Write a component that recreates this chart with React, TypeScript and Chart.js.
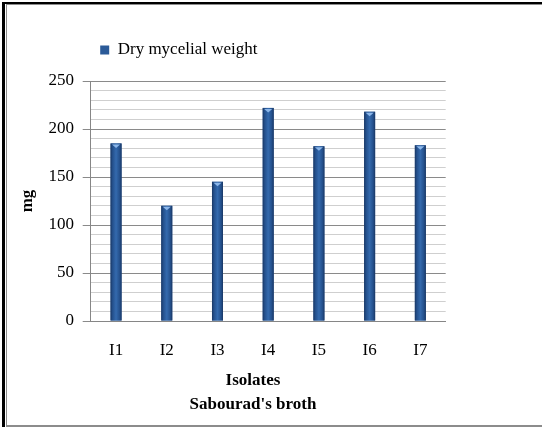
import React, { useEffect, useRef } from "react";
import { Chart, registerables } from "chart.js";

Chart.register(...registerables);

// ---- data ----
const categories = ["I1", "I2", "I3", "I4", "I5", "I6", "I7"];
const dryMycelialWeight = [185, 120, 145, 222, 182, 218, 183];
const seriesLabel = "Dry mycelial weight";
const yAxisTitle = "mg";
const xAxisTitleLines = ["Isolates", "Sabourad's broth"];
const yMin = 0;
const yMax = 250;
const yGridStep = 10;
const yLabelStep = 50;

const FONT = '"Liberation Serif", "Times New Roman", serif';

const cylinderPlugin = {
  id: "cylinderBars",
  afterDatasetsDraw(chart: any) {
    const ctx = chart.ctx;
    chart.data.datasets.forEach((_ds: any, i: number) => {
      const meta = chart.getDatasetMeta(i);
      meta.data.forEach((bar: any) => {
        const { x, y, base, width } = bar.getProps(["x", "y", "base", "width"], true);
        const l = x - width / 2;
        const r = x + width / 2;
        ctx.save();
        const g = ctx.createLinearGradient(l, 0, r, 0);
        g.addColorStop(0, "#1a3763");
        g.addColorStop(0.18, "#24508c");
        g.addColorStop(0.5, "#346aae");
        g.addColorStop(0.82, "#24508c");
        g.addColorStop(1, "#1a3763");
        ctx.fillStyle = g;
        ctx.fillRect(l, y, width, base - y);
        // top cap
        ctx.beginPath();
        ctx.moveTo(l + 1.5, y + 1);
        ctx.lineTo(r - 1.5, y + 1);
        ctx.lineTo(x, y + 4.5);
        ctx.closePath();
        ctx.fillStyle = "#8cb7ea";
        ctx.fill();
        ctx.restore();
      });
    });
  },
};

export default function App() {
  const canvasRef = useRef<HTMLCanvasElement | null>(null);

  useEffect(() => {
    const canvas = canvasRef.current;
    if (!canvas) return;
    const chart = new Chart(canvas, {
      type: "bar",
      data: {
        labels: categories,
        datasets: [
          {
            label: seriesLabel,
            data: dryMycelialWeight,
            backgroundColor: "#2b5a98",
            borderWidth: 0,
            barPercentage: 0.217,
            categoryPercentage: 1,
          },
        ],
      },
      options: {
        responsive: false,
        animation: false,
        layout: { padding: { top: 32, left: 0, right: 0, bottom: 0 } },
        plugins: {
          legend: {
            display: true,
            position: "top",
            align: "start",
            fullSize: false,
            labels: {
              boxWidth: 9,
              boxHeight: 9,
              padding: 9.5,
              color: "#000",
              font: { family: FONT, size: 17 },
            },
          },
          subtitle: {
            display: true,
            text: "",
            position: "top",
            weight: 500,
            fullSize: false,
            padding: 0,
            font: { size: 10, lineHeight: 1.25 },
          },
          title: {
            display: true,
            text: xAxisTitleLines,
            position: "bottom",
            fullSize: true,
            color: "#000",
            font: { family: FONT, size: 17, weight: "bold", lineHeight: 24 / 17 },
            padding: { top: -11.4, bottom: 10 },
          },
          tooltip: { enabled: false },
        },
        scales: {
          x: {
            grid: { display: false, drawTicks: false },
            border: { display: true, color: "#868686", width: 1 },
            ticks: { color: "#000", padding: 19.5, font: { family: FONT, size: 17 } },
          },
          y: {
            min: yMin,
            max: yMax,
            afterFit: (s: any) => {
              s.width = 90.7;
            },
            ticks: {
              stepSize: yGridStep,
              autoSkip: false,
              padding: 8.7,
              color: "#000",
              font: { family: FONT, size: 17 },
              callback: (v: any) => (Number(v) % yLabelStep === 0 ? String(v) : ""),
            },
            grid: {
              drawTicks: true,
              tickLength: 8,
              color: (c: any) => (c.tick && c.tick.value % yLabelStep === 0 ? "#8a8a8a" : "#cfcfcf"),
              tickColor: (c: any) => (c.tick && c.tick.value % yLabelStep === 0 ? "#8a8a8a" : "rgba(0,0,0,0)"),
            },
            border: { display: true, color: "#868686" },
            title: {
              display: true,
              text: yAxisTitle,
              color: "#000",
              font: { family: FONT, size: 17, weight: "bold" },
              padding: { top: 17.6, bottom: 0 },
            },
          },
          yDummy: {
            type: "linear",
            position: "right",
            display: true,
            grid: { display: false, drawTicks: false },
            border: { display: false },
            ticks: { display: false },
            afterFit: (s: any) => {
              s.width = 60.3;
            },
          },
        },
      } as any,
      plugins: [cylinderPlugin],
    });
    return () => chart.destroy();
  }, []);

  const line = (style: React.CSSProperties) => (
    <div style={{ position: "absolute", ...style }} />
  );

  return (
    <div
      style={{
        position: "fixed",
        left: 0,
        top: 0,
        width: 542,
        height: 427,
        background: "#fff",
        overflow: "hidden",
      }}
    >
      {line({ left: 2, top: 2, width: 540, height: 2, background: "#000" })}
      {line({ left: 2, top: 2, width: 3, height: 425, background: "#000" })}
      {line({ left: 6, top: 4, width: 536, height: 1, background: "#8c8c8c" })}
      {line({ left: 6, top: 4, width: 1, height: 422, background: "#8c8c8c" })}
      {line({ left: 6, top: 425, width: 536, height: 2, background: "#8c8c8c" })}
      <canvas
        ref={canvasRef}
        width={506}
        height={427}
        style={{ position: "absolute", left: 0, top: 0, width: 506, height: 427 }}
      />
    </div>
  );
}
